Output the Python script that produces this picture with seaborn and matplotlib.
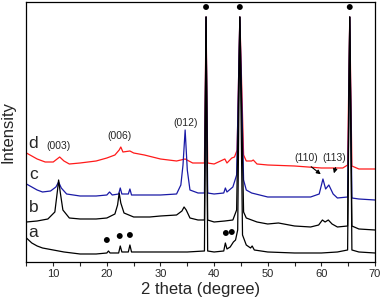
import pandas as pd
import matplotlib.pyplot as plt
import seaborn as sns
from matplotlib.ticker import MultipleLocator

# XRD patterns, heights (arbitrary units, offset stacked)
x_a = [5, 6, 7, 8, 10, 12, 15, 18, 20, 20.3, 20.6, 22.2, 22.5, 22.8, 24.0, 24.3, 24.6,
       27, 30, 35, 38.2, 38.5, 38.8, 40, 41.8, 42.1, 42.4, 43.0, 43.6, 44.0, 44.4, 44.8,
       45.3, 46, 46.8, 47.1, 47.5, 50, 55, 60, 63, 64.9, 65.3, 65.7, 67, 70]
y_a = [24, 19, 16, 14, 12, 10, 8, 8, 9, 11, 9, 9, 16, 10, 10, 17, 10,
       10, 10, 10, 11, 245, 11, 10, 11, 19, 13, 15, 20, 22, 32, 245,
       27, 17, 14, 16, 12, 10, 9, 9, 10, 12, 245, 12, 10, 9]

x_b = [5, 7, 9, 10.3, 10.8, 11.0, 11.3, 11.8, 13, 15, 18, 20, 21.5, 22.0, 22.3, 22.6, 23.2,
       25, 28, 30, 33, 34.0, 34.4, 34.8, 35.5, 37, 38.2, 38.5, 38.8, 40, 42, 43.5, 44.2,
       44.8, 45.5, 46, 48, 50, 52, 55, 58, 59.5, 60.2, 60.7, 61.3, 62, 63, 64.9, 65.3,
       65.7, 67, 70]
y_b = [40, 41, 43, 50, 72, 82, 70, 52, 44, 43, 43, 44, 48, 57, 69, 59, 49,
       45, 45, 46, 47, 51, 55, 52, 44, 42, 42, 245, 42, 40, 41, 42, 52,
       245, 50, 44, 40, 38, 39, 36, 35, 37, 42, 40, 42, 38, 35, 36, 245,
       36, 33, 32]

x_c = [5, 6, 7, 8, 9.5, 10.5, 11.0, 11.5, 12.5, 15, 18, 20, 20.5, 21, 22.2, 22.5, 22.8,
       24.0, 24.3, 24.6, 27, 30, 33, 33.8, 34.2, 34.6, 35.0, 35.5, 37, 38.2, 38.5, 38.8,
       40, 41.8, 42.1, 42.4, 43.5, 44.2, 44.8, 45.5, 46, 47, 50, 55, 58, 59.6, 60.3,
       60.8, 61.4, 62.2, 63, 64.9, 65.3, 65.7, 67, 70]
y_c = [78, 75, 72, 70, 71, 75, 80, 74, 68, 66, 66, 67, 70, 67, 68, 74, 68,
       68, 73, 67, 67, 67, 68, 77, 97, 132, 92, 72, 69, 69, 245, 69,
       68, 69, 74, 70, 75, 87, 245, 82, 72, 69, 65, 65, 65, 68, 83,
       73, 77, 68, 64, 65, 245, 64, 63, 62]

x_d = [5, 6, 7, 8.5, 10, 11.2, 12, 13, 15, 18, 20, 21.5, 22.3, 22.6, 23, 24.3, 25, 27,
       30, 33, 34.6, 36, 38.2, 38.5, 38.8, 40, 42, 42.4, 43.3, 43.8, 44.3, 44.8, 45.5,
       46, 47, 47.3, 48, 50, 55, 60, 64, 64.9, 65.3, 65.7, 67, 70]
y_d = [109, 106, 103, 100, 100, 105, 101, 98, 99, 101, 104, 107, 112, 115, 110, 111, 109, 107,
       103, 101, 103, 99, 99, 245, 99, 98, 103, 99, 104, 105, 112, 245, 107,
       101, 101, 102, 98, 97, 96, 94, 94, 97, 245, 96, 93, 93]

curve_labels = ['a', 'b', 'c', 'd']
label_y = [29, 54, 87, 118]

hkl_text = ['(003)', '(006)', '(012)', '(110)', '(113)']
hkl_x = [11.0, 22.4, 34.6, 57.1, 62.4]
hkl_y = [116, 126, 139, 104, 104]

# Al substrate / impurity reflections marked with dots
dot_x = [38.5, 44.8, 65.3, 20.0, 22.4, 24.3, 42.2, 43.3]
dot_y = [255, 255, 255, 22, 26, 27, 29, 30]

sns.set_style('ticks')
plt.rcParams['font.family'] = ['Liberation Sans', 'DejaVu Sans']

fig = plt.figure(figsize=(3.83, 3.0), dpi=100)
ax = fig.add_axes([0.069, 0.1267, 0.91, 0.8666])

curves = [(x_d, y_d, '#ff1a1a'), (x_c, y_c, '#1a1aa6'), (x_b, y_b, 'black'), (x_a, y_a, 'black')]
for xs, ys, col in curves:
    df = pd.DataFrame({'x': xs, 'y': ys})
    sns.lineplot(data=df, x='x', y='y', ax=ax, color=col, lw=0.9,
                 estimator=None, sort=False)

sns.scatterplot(x=dot_x, y=dot_y, ax=ax, color='black', s=18, edgecolor='none', zorder=5)

for lab, ly in zip(curve_labels, label_y):
    ax.text(6.3, ly, lab, fontsize=12.5, ha='center', va='center')

for t, hx, hy in zip(hkl_text, hkl_x, hkl_y):
    ax.text(hx, hy, t, fontsize=7.5, ha='center', va='center')

ax.annotate('', xy=(60.3, 86), xytext=(57.7, 97),
            arrowprops=dict(arrowstyle='-|>', color='black', lw=0.8, mutation_scale=6))
ax.annotate('', xy=(62.2, 86), xytext=(62.8, 97),
            arrowprops=dict(arrowstyle='-|>', color='black', lw=0.8, mutation_scale=6))

ax.set_xlim(5, 70)
ax.set_ylim(0, 260)
ax.xaxis.set_major_locator(MultipleLocator(10))
ax.xaxis.set_minor_locator(MultipleLocator(5))
ax.tick_params(axis='x', which='both', direction='out', length=3, width=0.8, labelsize=8, pad=2)
ax.set_yticks([])
for s in ax.spines.values():
    s.set_visible(True)
    s.set_linewidth(0.9)
    s.set_color('black')
ax.set_xlabel('2 theta (degree)', fontsize=12, labelpad=2)
ax.set_ylabel('Intensity', fontsize=12)
ax.yaxis.set_label_coords(-0.03, 0.5)

plt.savefig('out.png', dpi=100)
